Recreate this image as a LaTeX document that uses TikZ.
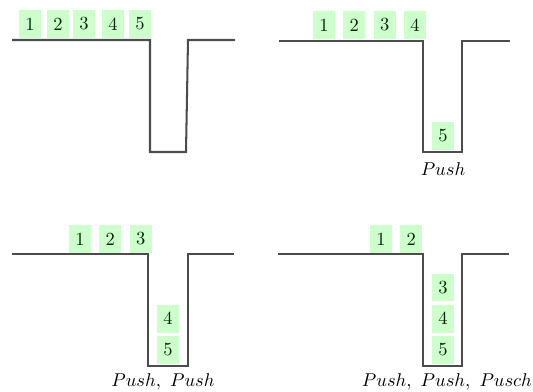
\documentclass[tikz,border=0pt]{standalone}
\usetikzlibrary{positioning}
\tikzset{
    well/.style={line width=1.1pt, draw=black!70, line join=miter}, % ground line with the pit
    item/.style={fill=green!20, text=green!15!black, minimum width=12pt, minimum height=15pt, inner sep=0pt}, % one element
    node distance=4pt, % gap between two elements in a row
}
\begin{document}
\begin{tikzpicture}[x=0.54pt, y=-0.54pt]
    \useasboundingbox (0,0) rectangle (533,391);

    % top left: all elements still outside
    \draw[well] (12,40) -- (150,40) -- (150,152) -- (186,152) -- (188,40) -- (235,40);
    \node[item] (a1) at (30,24) {1};
    \node[item] (a2) at (58,24) {2};
    \node[item] (a3) at (84,24) {3};
    \node[item] (a4) at (113,24) {4};
    \node[item] (a5) at (140,24) {5};

    % top right: one push
    \draw[well] (279,41) -- (423,41) -- (423,152) -- (462,152) -- (462,41) -- (510,41);
    \node[item] (b1) at (324,25) {1};
    \node[item, right=of b1] (b2) {2};
    \node[item, right=of b2] (b3) {3};
    \node[item, right=of b3] (b4) {4};
    \node[item] (b5) at (443,136) {5};
    \node (lb) at (443,169) {$Push$};

    % bottom left: two pushes
    \draw[well] (12,254) -- (148,254) -- (148,366) -- (188,366) -- (188,254) -- (234,254);
    \node[item] (c1) at (80,239) {1};
    \node[item, right=of c1] (c2) {2};
    \node[item, right=of c2] (c3) {3};
    \node[item] (c5) at (168,350) {5};
    \node[item, above=1.5pt of c5] (c4) {4};
    \node (lc) at (163,382) {$Push,\ Push$};

    % bottom right: three pushes
    \draw[well] (278,254) -- (423,254) -- (423,366) -- (462,366) -- (462,254) -- (509,254);
    \node[item] (d1) at (381,239) {1};
    \node[item, right=of d1] (d2) {2};
    \node[item] (d5) at (443,350) {5};
    \node[item, above=1.5pt of d5] (d4) {4};
    \node[item, above=1.5pt of d4] (d3) {3};
    \node (ld) at (447,382) {$Push,\ Push,\ Pusch$};
\end{tikzpicture}
\end{document}
